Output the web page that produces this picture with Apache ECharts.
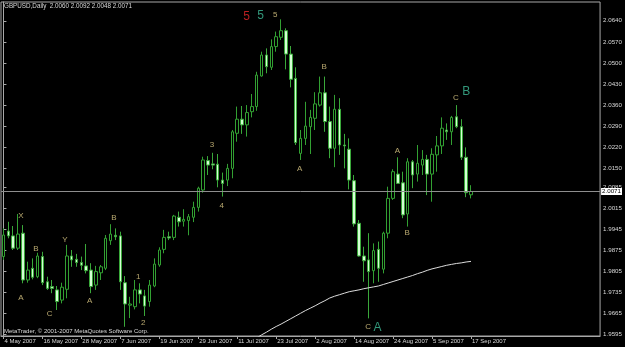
<!DOCTYPE html>
<html><head><meta charset="utf-8">
<script src="https://cdn.jsdelivr.net/npm/echarts@6/dist/echarts.min.js"></script>
<style>html,body{margin:0;padding:0;background:#000}#c{width:625px;height:347px}</style>
</head><body><div id="c"></div>
<script>
const symbolName = 'GBPUSD,Daily';
const copyright = 'MetaTrader, \u00a9 2001-2007 MetaQuotes Software Corp.';
const dates = [
'4 May 2007','7 May 2007','8 May 2007','9 May 2007','10 May 2007','11 May 2007','14 May 2007','15 May 2007','16 May 2007','17 May 2007',
'18 May 2007','21 May 2007','22 May 2007','23 May 2007','24 May 2007','25 May 2007','28 May 2007','29 May 2007','30 May 2007','31 May 2007',
'1 Jun 2007','4 Jun 2007','5 Jun 2007','6 Jun 2007','7 Jun 2007','8 Jun 2007','11 Jun 2007','12 Jun 2007','13 Jun 2007','14 Jun 2007',
'15 Jun 2007','18 Jun 2007','19 Jun 2007','20 Jun 2007','21 Jun 2007','22 Jun 2007','25 Jun 2007','26 Jun 2007','27 Jun 2007','28 Jun 2007',
'29 Jun 2007','2 Jul 2007','3 Jul 2007','4 Jul 2007','5 Jul 2007','6 Jul 2007','9 Jul 2007','10 Jul 2007','11 Jul 2007','12 Jul 2007',
'13 Jul 2007','16 Jul 2007','17 Jul 2007','18 Jul 2007','19 Jul 2007','20 Jul 2007','23 Jul 2007','24 Jul 2007','25 Jul 2007','26 Jul 2007',
'27 Jul 2007','30 Jul 2007','31 Jul 2007','1 Aug 2007','2 Aug 2007','3 Aug 2007','6 Aug 2007','7 Aug 2007','8 Aug 2007','9 Aug 2007',
'10 Aug 2007','13 Aug 2007','14 Aug 2007','15 Aug 2007','16 Aug 2007','17 Aug 2007','20 Aug 2007','21 Aug 2007','22 Aug 2007','23 Aug 2007',
'24 Aug 2007','27 Aug 2007','28 Aug 2007','29 Aug 2007','30 Aug 2007','31 Aug 2007','3 Sep 2007','4 Sep 2007','5 Sep 2007','6 Sep 2007',
'7 Sep 2007','10 Sep 2007','11 Sep 2007','12 Sep 2007','13 Sep 2007','14 Sep 2007','17 Sep 2007'
];
const emptySlots = 26; // chart shift space on the right
// [open, close, low, high]
const candles = [
[1.9854,1.9926,1.9843,1.9948],[1.9939,1.9923,1.9915,1.9970],[1.9923,1.9882,1.9876,1.9956],[1.9882,1.9929,1.9876,1.9996],
[1.9932,1.9776,1.9765,1.9959],[1.9776,1.9809,1.9767,1.9837],[1.9815,1.9785,1.9778,1.9848],[1.9787,1.9856,1.9782,1.9867],
[1.9854,1.9767,1.9759,1.9870],[1.9770,1.9748,1.9743,1.9787],[1.9754,1.9748,1.9732,1.9776],[1.9743,1.9704,1.9676,1.9756],
[1.9709,1.9752,1.9698,1.9767],[1.9745,1.9856,1.9715,1.9893],[1.9856,1.9843,1.9820,1.9876],[1.9845,1.9834,1.9820,1.9863],
[1.9834,1.9825,1.9809,1.9854],[1.9823,1.9807,1.9798,1.9896],[1.9809,1.9754,1.9732,1.9832],[1.9759,1.9804,1.9743,1.9823],
[1.9800,1.9820,1.9776,1.9826],[1.9815,1.9915,1.9809,1.9926],[1.9907,1.9929,1.9893,1.9962],[1.9925,1.9920,1.9909,1.9948],
[1.9923,1.9770,1.9743,1.9937],[1.9767,1.9696,1.9620,1.9789],[1.9692,1.9696,1.9649,1.9720],[1.9687,1.9743,1.9678,1.9776],
[1.9743,1.9729,1.9698,1.9765],[1.9723,1.9689,1.9656,1.9743],[1.9704,1.9759,1.9687,1.9776],[1.9756,1.9829,1.9752,1.9848],
[1.9826,1.9876,1.9820,1.9885],[1.9878,1.9918,1.9865,1.9943],[1.9920,1.9916,1.9909,1.9937],[1.9918,1.9989,1.9909,1.9993],
[1.9985,1.9970,1.9954,2.0004],[1.9972,1.9978,1.9954,2.0012],[1.9974,1.9987,1.9925,1.9996],[1.9985,2.0018,1.9969,2.0037],
[2.0018,2.0082,2.0004,2.0087],[2.0076,2.0176,2.0067,2.0187],[2.0174,2.0159,2.0126,2.0189],[2.0163,2.0159,2.0145,2.0200],
[2.0162,2.0109,2.0085,2.0196],[2.0109,2.0098,2.0054,2.0134],[2.0109,2.0148,2.0089,2.0163],[2.0148,2.0270,2.0115,2.0276],
[2.0265,2.0312,2.0237,2.0354],[2.0312,2.0293,2.0263,2.0356],[2.0293,2.0334,2.0254,2.0359],[2.0337,2.0354,2.0318,2.0396],
[2.0354,2.0459,2.0340,2.0470],[2.0456,2.0526,2.0454,2.0537],[2.0526,2.0487,2.0465,2.0548],[2.0485,2.0554,2.0476,2.0578],
[2.0554,2.0587,2.0537,2.0604],[2.0585,2.0607,2.0576,2.0645],[2.0607,2.0529,2.0478,2.0615],[2.0529,2.0445,2.0418,2.0556],
[2.0448,2.0234,2.0226,2.0485],[2.0198,2.0248,2.0176,2.0276],[2.0248,2.0289,2.0226,2.0370],[2.0287,2.0318,2.0196,2.0343],
[2.0315,2.0363,2.0276,2.0402],[2.0359,2.0400,2.0354,2.0454],[2.0400,2.0304,2.0270,2.0454],[2.0304,2.0215,2.0182,2.0354],
[2.0215,2.0345,2.0152,2.0393],[2.0345,2.0226,2.0193,2.0382],[2.0226,2.0223,2.0148,2.0263],[2.0212,2.0109,2.0078,2.0248],
[2.0107,1.9963,1.9954,2.0126],[1.9965,1.9856,1.9854,1.9976],[1.9856,1.9840,1.9770,1.9887],[1.9843,1.9804,1.9648,1.9932],
[1.9807,1.9874,1.9765,1.9898],[1.9878,1.9815,1.9770,1.9904],[1.9812,1.9932,1.9798,1.9937],[1.9932,2.0048,1.9915,2.0087],
[2.0048,2.0137,2.0043,2.0145],[2.0129,2.0098,2.0096,2.0185],[2.0100,1.9993,1.9982,2.0137],[1.9996,2.0170,1.9954,2.0182],
[2.0170,2.0126,2.0082,2.0176],[2.0129,2.0165,2.0104,2.0226],[2.0159,2.0178,2.0126,2.0209],[2.0178,2.0129,2.0059,2.0193],
[2.0129,2.0195,2.0037,2.0215],[2.0193,2.0223,2.0137,2.0256],[2.0223,2.0282,2.0196,2.0318],[2.0276,2.0270,2.0243,2.0298],
[2.0270,2.0318,2.0226,2.0323],[2.0320,2.0287,2.0282,2.0359],[2.0287,2.0185,2.0176,2.0312],[2.0185,2.0067,2.0052,2.0218],
[2.0060,2.0071,2.0048,2.0092]
];
const maStart = 52;
const maValues = [1.9583,1.9593,1.9602,1.9612,1.9621,1.9629,1.9638,1.9647,1.9656,1.9665,1.9674,1.9682,1.9690,1.9699,1.9707,
1.9716,1.9722,1.9727,1.9732,1.9737,1.9740,1.9743,1.9747,1.9750,1.9753,1.9756,1.9761,1.9766,1.9771,1.9776,1.9781,1.9786,
1.9791,1.9797,1.9802,1.9808,1.9813,1.9817,1.9821,1.9825,1.9828,1.9831,1.9833,1.9836,1.9838];
const yTicks = [1.9595,1.9665,1.9735,1.9805,1.9875,1.9945,2.0015,2.0085,2.0150,2.0220,2.0290,2.0360,2.0430,2.0500,2.0570,2.0640];
const labelTexts = ['X','A','B','C','Y','A','B','1','2','3','4','5','5','5','A','B','A','B','C','B','C','A'];
const labelBars  = [3.6,3.6,6.65,9.5,12.6,17.7,22.7,27.7,28.7,42.8,44.8,49.9,52.8,55.8,60.8,65.85,80.9,82.9,92.9,95.0,74.9,76.8];
const labelPrices= [1.9989,1.9717,1.9880,1.9663,1.9909,1.9706,1.9983,1.9785,1.9634,2.0226,2.0024,2.0654,2.0657,2.0659,2.0146,2.0485,2.0207,1.9932,2.0382,2.0404,1.9620,1.9617];
const labelKinds = ['y','y','y','y','y','y','y','y','y','y','y','r','t','y','y','y','y','y','y','t','y','t'];

const kindColor = {y:'#e3d08a', r:'#e8282a', t:'#3ebd98'};
const kindSize = {y:8, r:12, t:12};
const FONT = 'Liberation Sans, Arial, sans-serif';
const cats = dates.concat(new Array(emptySlots).fill(''));
const last = candles[candles.length-1];
const lastClose = last[1];
const maSeries = new Array(candles.length).fill(null);
maValues.forEach((v,i)=>{maSeries[maStart+i]=v;});
const isTick = (i)=> i % 8 === 0 && i < dates.length;

const chart = echarts.init(document.getElementById('c'), null, {renderer:'canvas'});
chart.setOption({
  animation:false,
  backgroundColor:'#000',
  title:{text: symbolName + '  ' + [last[0],last[3],last[2],last[1]].map(v=>v.toFixed(4)).join(' '),
    left:4, top:3, padding:0,
    textStyle:{color:'#d8d8d8', fontSize:6.3, fontWeight:'normal', fontFamily:FONT}},
  graphic:[{type:'text', left:4, top:328, silent:true,
    style:{text:copyright, fill:'#dcdcdc', fontSize:6, fontFamily:FONT}}],
  grid:{left:1, right:22, top:2, bottom:11, show:true, borderColor:'#a8a8a8', borderWidth:1, backgroundColor:'#000'},
  xAxis:[{type:'category', data:cats, boundaryGap:true,
    axisLine:{show:true, lineStyle:{color:'#a8a8a8'}},
    axisTick:{show:true, alignWithLabel:true, interval:(i)=>isTick(i), length:3, lineStyle:{color:'#a8a8a8'}},
    axisLabel:{interval:(i)=>isTick(i), align:'left', color:'#d8d8d8', fontSize:6, fontFamily:FONT, margin:2, padding:[0,0,0,1]},
    splitLine:{show:false}},
    {type:'value', min:-0.5, max:cats.length-0.5, show:false}],
  yAxis:{type:'value', position:'right', min:1.95893, max:2.070263, scale:true,
    axisLine:{show:true, lineStyle:{color:'#a8a8a8'}},
    axisTick:{show:true, customValues:yTicks, length:3, lineStyle:{color:'#a8a8a8'}},
    axisLabel:{customValues:yTicks, formatter:(v)=>v.toFixed(4), color:'#d8d8d8', fontSize:6.2, fontFamily:FONT, margin:3},
    splitLine:{show:false}},
  series:[
    {type:'candlestick', data:candles, barWidth:3,
      itemStyle:{color:'#000000', color0:'#d4ffd4', borderColor:'#32a032', borderColor0:'#3aa83a', borderWidth:1}},
    {type:'line', data:maSeries, showSymbol:false, symbol:'none', connectNulls:false, z:3,
      lineStyle:{color:'#dcdcdc', width:1},
      markLine:{silent:true, symbol:['none','none'], animation:false, precision:4,
        data:[{yAxis:lastClose}],
        lineStyle:{color:'#8e8e8e', type:'solid', width:1},
        label:{position:'end', formatter:()=>lastClose.toFixed(4), backgroundColor:'#ffffff', color:'#000',
          fontSize:6.2, fontFamily:FONT, padding:[1,1,0,1], distance:1}}},
    {type:'scatter', xAxisIndex:1, symbolSize:1, z:5, silent:true,
      itemStyle:{color:'rgba(0,0,0,0)'},
      data: labelTexts.map((t,i)=>({value:[labelBars[i], labelPrices[i]],
        label:{show:true, position:'inside', formatter:t, color:kindColor[labelKinds[i]],
          fontSize:kindSize[labelKinds[i]], fontFamily:FONT}}))}
  ]
});
</script></body></html>
